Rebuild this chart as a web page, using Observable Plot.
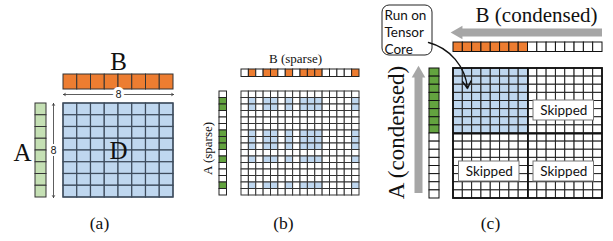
<!DOCTYPE html>
<html>
<head>
<meta charset="utf-8">
<script src="https://cdn.jsdelivr.net/npm/d3@7"></script>
<script src="https://cdn.jsdelivr.net/npm/@observablehq/plot@0.6"></script>
<style>
  html, body { margin: 0; padding: 0; background: #fff; }
  svg { display: block; }
</style>
</head>
<body>
<div id="chart"></div>
<script>
// ---------- data ----------
const panelLabels = ["(a)", "(b)", "(c)"];
const denseSize = 8;
const denseLabels = ["A", "B", "D"];
const sizeLabel = "8";
const sparseSize = 16;
const sparseA = [0, 1, 1, 0, 0, 0, 1, 1, 1, 0, 1, 0, 0, 0, 1, 0];
const sparseB = [0, 1, 0, 1, 1, 0, 1, 0, 1, 1, 1, 0, 0, 0, 0, 1];
const sparseLabels = ["A (sparse)", "B (sparse)"];
const condensedSize = 16;
const condensedCount = 8;
const condensedLabels = ["A (condensed)", "B (condensed)"];
const boxLabel = "Run on\nTensor\nCore";
const skippedLabel = "Skipped";
const skippedQuadrants = [[0, 1], [1, 0], [1, 1]]; // [row, col]

// ---------- layout & style ----------
const C = {
  orange: "#ed7d31", blueL: "#bfd7ef", greenL: "#c5e0b4", green: "#63a33f",
  grid: "#3d4b5c", dark: "#222", grey: "#a6a6a6"
};
const L = {
  a: { x0: 63, y0: 103, w: 110, h: 94, bY: [74, 89], aX: [35, 46], arrowY: 94, arrowX: 53 },
  b: { x0: 241, y0: 91, w: 118, h: 104, bY: [69, 76.5], aX: [219, 226.5] },
  c: { x0: 453, y0: 68, w: 149, h: 130, bY: [42, 51.5], aX: [429, 439] }
};

// ---------- build geometry from data ----------
function matrix(n, g, fillFn) {
  const cw = g.w / n, ch = g.h / n, out = [];
  for (let i = 0; i < n; i++) for (let j = 0; j < n; j++)
    out.push({ x1: g.x0 + j * cw, x2: g.x0 + (j + 1) * cw, y1: g.y0 + i * ch, y2: g.y0 + (i + 1) * ch, fill: fillFn(i, j) });
  return out;
}
function rowBar(n, g, fillFn) {
  const cw = g.w / n;
  return d3.range(n).map(j => ({ x1: g.x0 + j * cw, x2: g.x0 + (j + 1) * cw, y1: g.bY[0], y2: g.bY[1], fill: fillFn(j) }));
}
function colBar(n, g, fillFn) {
  const ch = g.h / n;
  return d3.range(n).map(i => ({ x1: g.aX[0], x2: g.aX[1], y1: g.y0 + i * ch, y2: g.y0 + (i + 1) * ch, fill: fillFn(i) }));
}

const aD = matrix(denseSize, L.a, () => C.blueL);
const aB = rowBar(denseSize, L.a, () => C.orange);
const aA = colBar(denseSize, L.a, () => C.greenL);

const bD = matrix(sparseSize, L.b, (i, j) => sparseA[i] && sparseB[j] ? C.blueL : "#fff");
const bB = rowBar(sparseSize, L.b, j => sparseB[j] ? C.orange : "#fff");
const bA = colBar(sparseSize, L.b, i => sparseA[i] ? C.green : "#fff");

const cD = matrix(condensedSize, L.c, (i, j) => i < condensedCount && j < condensedCount ? C.blueL : "#fff");
const cB = rowBar(condensedSize, L.c, j => j < condensedCount ? C.orange : "#fff");
const cA = colBar(condensedSize, L.c, i => i < condensedCount ? C.green : "#fff");

const qw = L.c.w / 2, qh = L.c.h / 2;
const skipped = skippedQuadrants.map(([r, c]) => ({
  x1: L.c.x0 + c * qw + 5.5, x2: L.c.x0 + c * qw + 66,
  y1: L.c.y0 + r * qh + (r ? 28 : 32), y2: L.c.y0 + r * qh + (r ? 48 : 52), text: skippedLabel
}));

const serif = "Liberation Serif, Times New Roman, serif";
const sans = "Lato, Open Sans, sans-serif";

const aMidX = L.a.x0 + L.a.w / 2, aMidY = L.a.y0 + L.a.h / 2;

const chart = Plot.plot({
  width: 613, height: 241, margin: 0,
  x: { type: "linear", domain: [0, 613], range: [0, 613], axis: null },
  y: { type: "linear", domain: [0, 241], range: [0, 241], axis: null },
  marks: [
    // panel a
    Plot.rect(aD, { x1: "x1", x2: "x2", y1: "y1", y2: "y2", fill: "fill", stroke: C.grid, strokeWidth: 1.2 }),
    Plot.rect(aB, { x1: "x1", x2: "x2", y1: "y1", y2: "y2", fill: "fill", stroke: "#333", strokeWidth: 1 }),
    Plot.rect(aA, { x1: "x1", x2: "x2", y1: "y1", y2: "y2", fill: "fill", stroke: "#333", strokeWidth: 1 }),
    Plot.rect([L.a], { x1: d => d.x0, x2: d => d.x0 + d.w, y1: d => d.y0, y2: d => d.y0 + d.h, fill: "none", stroke: C.grid, strokeWidth: 1.2 }),
    Plot.arrow([[aMidX, L.a.x0], [aMidX, L.a.x0 + L.a.w]], { x1: d => d[0], x2: d => d[1], y1: L.a.arrowY, y2: L.a.arrowY, stroke: "#333", strokeWidth: 0.8, headLength: 4 }),
    Plot.arrow([[aMidY, L.a.y0], [aMidY, L.a.y0 + L.a.h]], { y1: d => d[0], y2: d => d[1], x1: L.a.arrowX, x2: L.a.arrowX, stroke: "#333", strokeWidth: 0.8, headLength: 4 }),
    Plot.text([sizeLabel], { x: aMidX, y: L.a.arrowY, text: d => d, fontSize: 10.5, fontFamily: sans, fill: "#222", stroke: "white", strokeWidth: 6, paintOrder: "stroke" }),
    Plot.text([sizeLabel], { x: L.a.arrowX, y: aMidY, text: d => d, fontSize: 10.5, fontFamily: sans, fill: "#222", stroke: "white", strokeWidth: 4, paintOrder: "stroke" }),
    Plot.text([denseLabels[0]], { x: 22, y: 152, text: d => d, fontSize: 25, fontFamily: serif, fill: "#111" }),
    Plot.text([denseLabels[1]], { x: aMidX, y: 61, text: d => d, fontSize: 25, fontFamily: serif, fill: "#111" }),
    Plot.text([denseLabels[2]], { x: aMidX, y: 150, text: d => d, fontSize: 25, fontFamily: serif, fill: "#111" }),

    // panel b
    Plot.rect(bD, { x1: "x1", x2: "x2", y1: "y1", y2: "y2", fill: "fill", stroke: "#333", strokeWidth: 1 }),
    Plot.rect(bB, { x1: "x1", x2: "x2", y1: "y1", y2: "y2", fill: "fill", stroke: "#222", strokeWidth: 1 }),
    Plot.rect(bA, { x1: "x1", x2: "x2", y1: "y1", y2: "y2", fill: "fill", stroke: "#222", strokeWidth: 1 }),
    Plot.text([sparseLabels[1]], { x: 295, y: 58, text: d => d, fontSize: 13, fontFamily: serif, fill: "#111" }),
    Plot.text([sparseLabels[0]], { x: 207, y: 148, text: d => d, rotate: -90, fontSize: 13, fontFamily: serif, fill: "#111" }),

    // panel c
    Plot.rect(cD, { x1: "x1", x2: "x2", y1: "y1", y2: "y2", fill: "fill", stroke: "#222", strokeWidth: 1 }),
    Plot.rect(cB, { x1: "x1", x2: "x2", y1: "y1", y2: "y2", fill: "fill", stroke: "#111", strokeWidth: 1 }),
    Plot.rect(cA, { x1: "x1", x2: "x2", y1: "y1", y2: "y2", fill: "fill", stroke: "#111", strokeWidth: 1 }),
    Plot.rect([L.c], { x1: d => d.x0, x2: d => d.x0 + d.w, y1: d => d.y0, y2: d => d.y0 + d.h, fill: "none", stroke: "#111", strokeWidth: 1.8 }),
    Plot.ruleX([L.c.x0 + qw], { y1: L.c.y0, y2: L.c.y0 + L.c.h, stroke: "#111", strokeWidth: 1.8 }),
    Plot.ruleY([L.c.y0 + qh], { x1: L.c.x0, x2: L.c.x0 + L.c.w, stroke: "#111", strokeWidth: 1.8 }),
    Plot.rect(skipped, { x1: "x1", x2: "x2", y1: "y1", y2: "y2", fill: "white", stroke: "#777", strokeWidth: 1 }),
    Plot.text(skipped, { x: d => (d.x1 + d.x2) / 2, y: d => (d.y1 + d.y2) / 2 + 0.5, text: "text", fontSize: 13.5, fontFamily: sans, fill: "#111" }),

    // grey condensing arrows
    Plot.ruleY([32], { x1: 461, x2: 602, stroke: C.grey, strokeWidth: 8 }),
    Plot.dot([0], { x: 458, y: 32, symbol: "triangle2", rotate: -90, r: 6.5, fill: C.grey, stroke: "none" }),
    Plot.ruleX([418], { y1: 76, y2: 193, stroke: C.grey, strokeWidth: 8 }),
    Plot.dot([0], { x: 418, y: 73, symbol: "triangle2", r: 6.5, fill: C.grey, stroke: "none" }),
    Plot.text([condensedLabels[1]], { x: 536, y: 15, text: d => d, fontSize: 21, fontFamily: serif, fill: "#111" }),
    Plot.text([condensedLabels[0]], { x: 396, y: 132, text: d => d, rotate: -90, fontSize: 23, fontFamily: serif, fill: "#111" }),

    // tensor core box and curved arrow
    Plot.rect([0], { x1: 382, x2: 432, y1: 5, y2: 55, rx: 7, fill: "white", stroke: "#222", strokeWidth: 1 }),
    Plot.text([boxLabel], { x: 384, y: 8, text: d => d, textAnchor: "start", lineAnchor: "top", lineHeight: 1.25, fontSize: 13.5, fontFamily: sans, fill: "#111" }),
    Plot.arrow([0], { x1: 428, y1: 42, x2: 467, y2: 88, bend: 35, stroke: "#111", strokeWidth: 1.4, headLength: 9 }),

    // panel labels
    Plot.text(panelLabels, { x: (d, i) => [99, 283, 490][i], y: 223, text: d => d, fontSize: 17.5, fontFamily: serif, fill: "#111" })
  ]
});
document.getElementById("chart").append(chart);
</script>
</body>
</html>
